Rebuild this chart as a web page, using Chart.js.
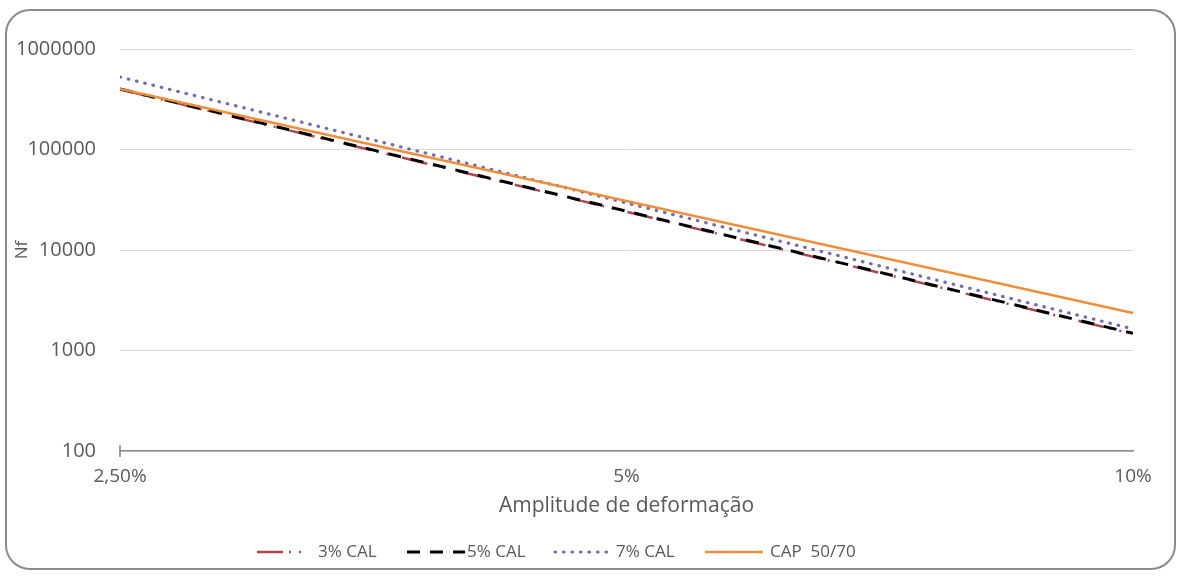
<!DOCTYPE html>
<html>
<head>
<meta charset="utf-8">
<title>Nf x Amplitude de deformação</title>
<script src="https://cdn.jsdelivr.net/npm/chart.js@4.4.1/dist/chart.umd.min.js"></script>
<style>
  html, body { margin: 0; padding: 0; background: #ffffff; }
  #wrap { width: 1182px; height: 577px; position: relative; }
</style>
</head>
<body>
<div id="wrap"><canvas id="fatigue" width="1182" height="577"></canvas></div>
<script>
// Strain amplitude (%) at the ends of each fatigue curve
const strainPct = [2.5, 10];

// Fatigue life Nf for each mixture
const cal3 = [395000, 1460];
const cal5 = [400000, 1480];
const cal7 = [526000, 1640];
const cap5070 = [400000, 2360];

// Axis ticks
const xTickValues = [2.5, 5, 10];
const xTickLabels = ['2,50%', '5%', '10%'];
const yTickValues = [100, 1000, 10000, 100000, 1000000];
const yTickLabels = ['100', '1000', '10000', '100000', '1000000'];

const seriesNames = ['3% CAL', '5% CAL', '7% CAL', 'CAP  50/70'];

const TEXT = '#595959';
const FONT = '"Open Sans", "DejaVu Sans", sans-serif';

const toPoints = ys => strainPct.map((x, i) => ({ x: x, y: ys[i] }));

// Rounded frame around the whole chart
const framePlugin = {
  id: 'frame',
  beforeDraw(chart) {
    const ctx = chart.ctx;
    ctx.save();
    ctx.fillStyle = '#ffffff';
    ctx.fillRect(0, 0, chart.width, chart.height);
    ctx.beginPath();
    ctx.roundRect(6, 10, chart.width - 13, chart.height - 18, 24);
    ctx.strokeStyle = '#8a8a8a';
    ctx.lineWidth = 2;
    ctx.stroke();
    ctx.restore();
  }
};

// Cross tick where the axes meet
const crossTickPlugin = {
  id: 'crossTick',
  afterDatasetsDraw(chart) {
    const xs = chart.scales.x;
    const ys = chart.scales.y;
    const px = xs.getPixelForValue(xTickValues[0]);
    const py = ys.getPixelForValue(yTickValues[0]);
    const ctx = chart.ctx;
    ctx.save();
    ctx.strokeStyle = '#7f7f7f';
    ctx.lineWidth = 1.5;
    ctx.beginPath();
    ctx.moveTo(px, py - 6);
    ctx.lineTo(px, py + 6);
    ctx.stroke();
    ctx.restore();
  }
};

// Legend row under the axis title
const legendRowPlugin = {
  id: 'legendRow',
  afterDraw(chart) {
    const ctx = chart.ctx;
    const y = chart.height - 25;
    const sample = 58;
    const textOffset = [61, 60, 61, 65];
    const starts = [257, 407, 555, 705];
    ctx.save();
    ctx.font = '17px ' + FONT;
    ctx.textBaseline = 'middle';
    ctx.fillStyle = TEXT;
    seriesNames.forEach((name, idx) => {
      const ds = chart.data.datasets.find(d => d.label === name);
      const x = starts[idx];
      ctx.save();
      ctx.strokeStyle = ds.borderColor;
      ctx.lineWidth = ds.borderWidth;
      ctx.lineCap = ds.borderCapStyle || 'butt';
      ctx.setLineDash(ds.borderDash || []);
      ctx.beginPath();
      ctx.moveTo(x, y);
      ctx.lineTo(x + sample, y);
      ctx.stroke();
      ctx.restore();
      ctx.fillText(name, x + textOffset[idx], y);
    });
    ctx.restore();
  }
};

new Chart(document.getElementById('fatigue'), {
  type: 'line',
  data: {
    datasets: [
      {
        label: seriesNames[0],
        data: toPoints(cal3),
        borderColor: '#ad4654',
        borderWidth: 2.5,
        borderDash: [26, 6, 2, 8, 2, 14],
        order: 4
      },
      {
        label: seriesNames[1],
        data: toPoints(cal5),
        borderColor: '#000000',
        borderWidth: 3,
        borderDash: [13, 10],
        order: 3
      },
      {
        label: seriesNames[2],
        data: toPoints(cal7),
        borderColor: '#6f6cb0',
        borderWidth: 3.2,
        borderDash: [0.5, 8],
        borderCapStyle: 'round',
        order: 2
      },
      {
        label: seriesNames[3],
        data: toPoints(cap5070),
        borderColor: '#ef8d3a',
        borderWidth: 2.5,
        order: 1
      }
    ]
  },
  options: {
    responsive: false,
    animation: false,
    parsing: false,
    elements: { point: { radius: 0, hoverRadius: 0 }, line: { tension: 0 } },
    layout: { padding: { top: 49, right: 49, left: 0, bottom: 54 } },
    plugins: {
      legend: { display: false },
      tooltip: { enabled: false }
    },
    scales: {
      x: {
        type: 'logarithmic',
        min: 2.5,
        max: 10,
        afterBuildTicks: s => { s.ticks = xTickValues.map(v => ({ value: v, major: true })); },
        afterFit: s => { s.height = 72; },
        ticks: {
          autoSkip: false,
          maxRotation: 0,
          padding: 6,
          color: TEXT,
          font: { family: FONT, size: 19 },
          callback: (v) => xTickLabels[xTickValues.indexOf(v)]
        },
        grid: { display: false },
        border: { display: true, color: '#8a8a8a', width: 1.5 },
        title: {
          display: true,
          text: 'Amplitude de deformação',
          color: TEXT,
          font: { family: FONT, size: 21 },
          padding: { top: 4, bottom: 4 }
        }
      },
      y: {
        type: 'logarithmic',
        min: 100,
        max: 1000000,
        afterBuildTicks: s => { s.ticks = yTickValues.map(v => ({ value: v, major: true })); },
        afterFit: s => { s.width = 120; },
        ticks: {
          autoSkip: false,
          padding: 24,
          color: TEXT,
          font: { family: FONT, size: 20 },
          callback: (v) => yTickLabels[yTickValues.indexOf(v)]
        },
        grid: { color: '#d9d9d9', lineWidth: 1, drawTicks: false },
        border: { display: false },
        title: {
          display: true,
          text: 'Nf',
          color: TEXT,
          font: { family: FONT, size: 17 },
          padding: { top: 12, bottom: 0 }
        }
      }
    }
  },
  plugins: [framePlugin, crossTickPlugin, legendRowPlugin]
});
</script>
</body>
</html>
